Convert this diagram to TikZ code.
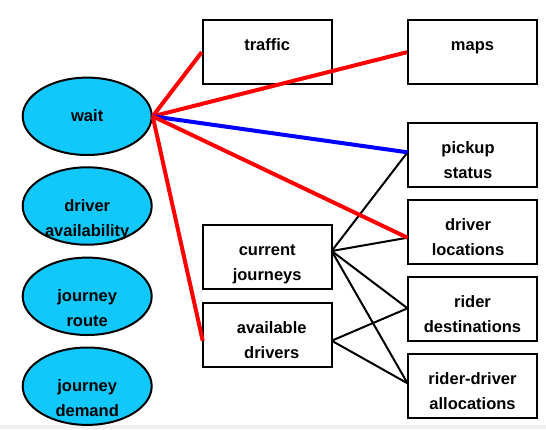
\documentclass[tikz,border=0pt]{standalone}
\usepackage{fontspec}
\setmainfont{Liberation Sans}
\usetikzlibrary{shapes.geometric}
\definecolor{ellcyan}{RGB}{16,200,252}
\definecolor{stripgray}{RGB}{240,240,240}
% #1 lines, #2 vertical shift, #3 twice the horizontal shift
\newcommand{\txtlines}[3]{\raisebox{#2}[0pt][0pt]{\makebox[0pt]{\hspace*{#3}\smash{\parbox[t]{150pt}{\centering #1}}}}}
\tikzset{
  every node/.style={font=\bfseries\fontsize{16.5}{25}\selectfont},
  ell/.style={ellipse, draw=black, line width=2pt, fill=ellcyan, minimum width=129pt, minimum height=77.4pt, inner sep=0pt},
  box/.style={rectangle, draw=black, line width=2pt, fill=white, minimum width=129pt, minimum height=64.5pt, inner sep=0pt},
  redline/.style={draw=red, line width=4pt},
  blueline/.style={draw=blue, line width=4pt},
  blackline/.style={draw=black, line width=2pt},
}
\begin{document}
\begin{tikzpicture}[x=1pt,y=-1pt]
\useasboundingbox (0,0) rectangle (546,429);
\fill[stripgray] (0,425) rectangle (546,429);
% ellipses
\node[ell] (wait) at (87.2,116.3) {\txtlines{wait}{-5.5pt}{0pt}};
\node[ell] (da) at (87.2,206) {\txtlines{driver\\availability}{-5.5pt}{0pt}};
\node[ell] (jr) at (87.2,296.3) {\txtlines{journey\\route}{-5.5pt}{0pt}};
\node[ell] (jd) at (87.2,386.2) {\txtlines{journey\\demand}{-5.5pt}{0pt}};
% connector ports
\coordinate (cjp) at (331.7,251);
\coordinate (adp) at (331.7,340.7);
\coordinate (adl) at (202.7,340.7);
\coordinate (psp) at (407.5,152.3);
\coordinate (dlp) at (407.5,237.7);
\coordinate (rdp) at (407.5,308.3);
\coordinate (rap) at (407.5,383.3);
% boxes
\node[box] (traffic) at (267.2,52.2) {\txtlines{traffic}{1.5pt}{0pt}};
\node[box] (maps) at (472.5,52.2) {\txtlines{maps}{1.5pt}{0pt}};
\node[box] (ps) at (472.5,154.9) {\txtlines{pickup\\status}{1.5pt}{-9pt}};
\node[box] (dl) at (472.5,232.2) {\txtlines{driver\\locations}{1.5pt}{-9pt}};
\node[box] (rd) at (472.5,308.9) {\txtlines{rider\\destinations}{1.5pt}{0pt}};
\node[box] (ra) at (472.5,386.2) {\txtlines{rider-driver\\allocations}{1.5pt}{0pt}};
\node[box] (cj) at (267.2,257.2) {\txtlines{current\\journeys}{1.5pt}{0pt}};
\node[box] (ad) at (267.2,335) {\txtlines{available\\drivers}{1.5pt}{9pt}};
% lines
\draw[blackline] (cjp) -- (psp);
\draw[blackline] (cjp) -- (dlp);
\draw[blackline] (cjp) -- (rdp);
\draw[blackline] (cjp) -- (rap);
\draw[blackline] (adp) -- (rdp);
\draw[blackline] (adp) -- (rap);
\draw[redline] (wait.east) -- (traffic.west);
\draw[redline] (wait.east) -- (maps.west);
\draw[blueline] (wait.east) -- (psp);
\draw[redline] (wait.east) -- (dlp);
\draw[redline] (wait.east) -- (adl);
\end{tikzpicture}
\end{document}
